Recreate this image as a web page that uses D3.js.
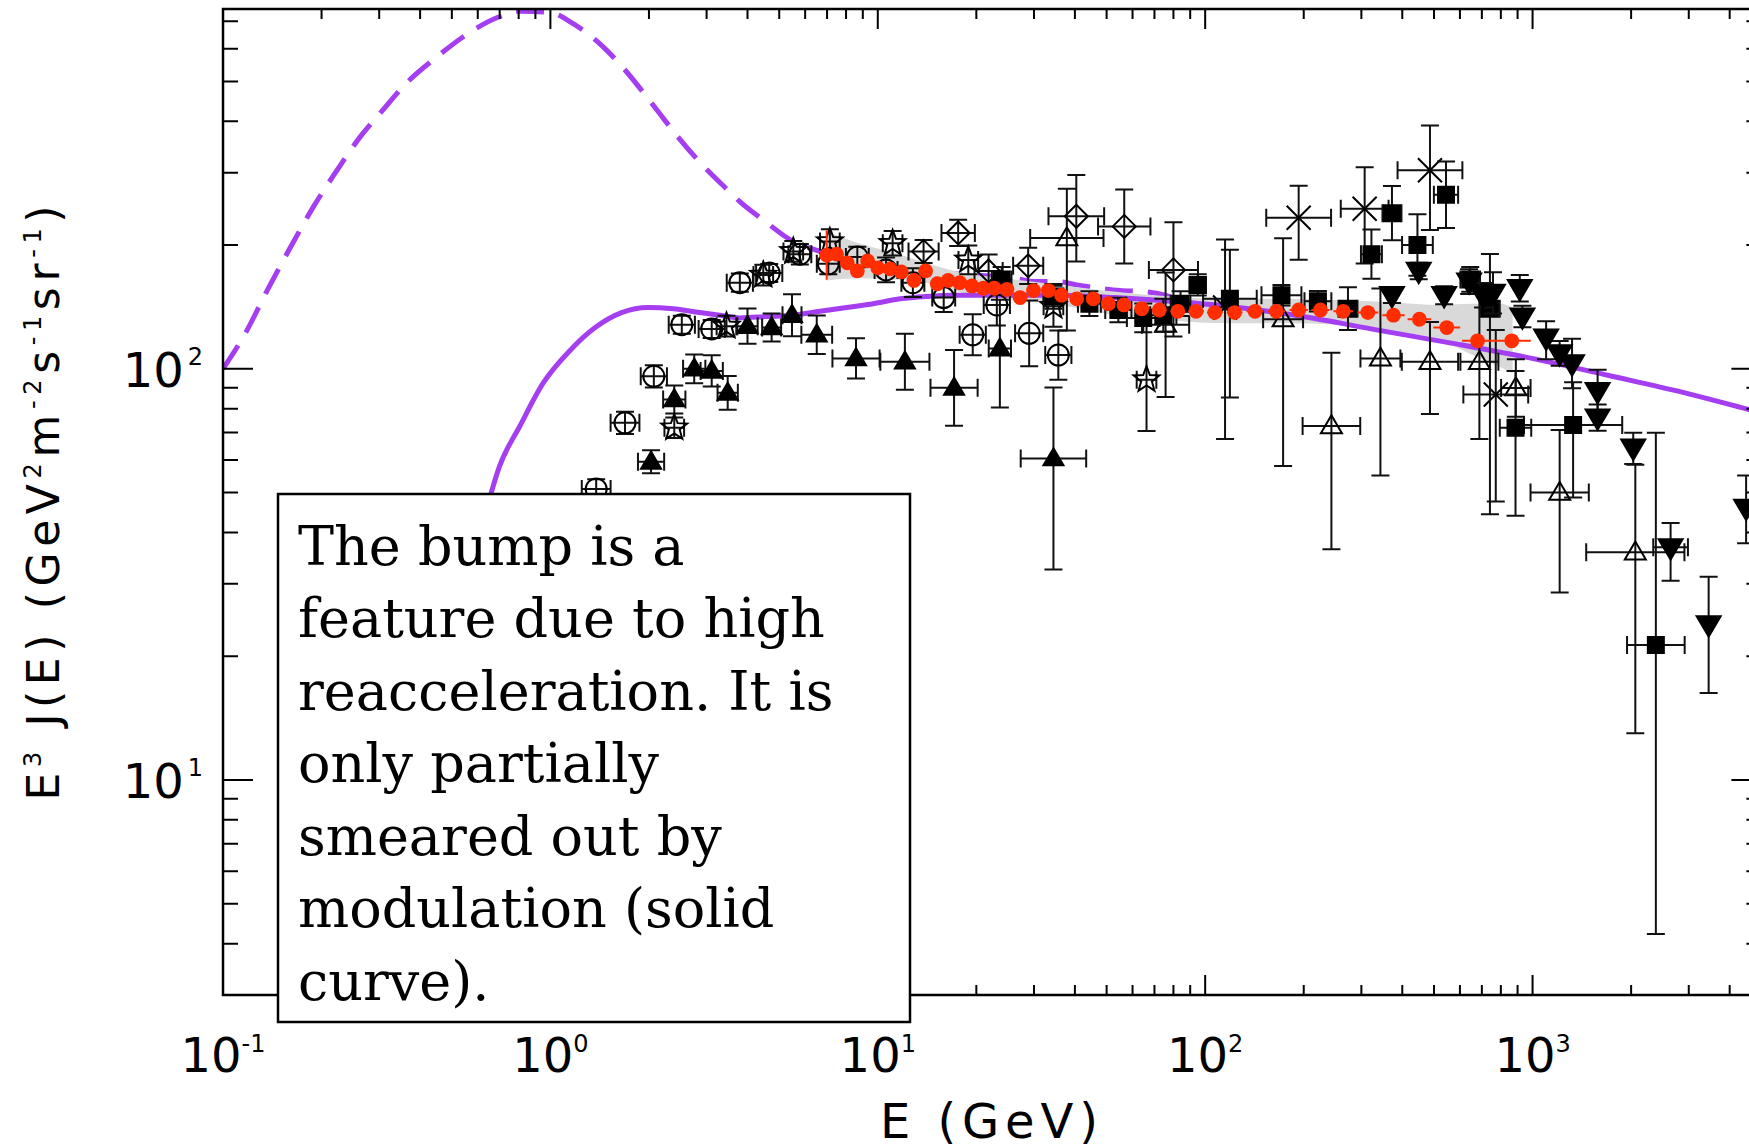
<!DOCTYPE html>
<html>
<head>
<meta charset="utf-8">
<script src="https://cdn.jsdelivr.net/npm/d3@7/dist/d3.min.js"></script>
<style>
  body { margin: 0; background: #fff; }
  text { font-family: "DejaVu Sans", sans-serif; fill: #000; }
</style>
</head>
<body>
<svg id="chart" width="1749" height="1148"></svg>
<script>
// each point: [E (GeV), E^3 J(E), dE half width (dex), dF low (dex), dF high (dex)]
var openCircles = [
  [1.38, 51.0, .044, .024, .024], [1.69, 73.9, .044, .027, .027], [2.07, 95.9, .04, .027, .027],
  [2.52, 128, .04, .022, .022], [3.11, 125, .04, .022, .022], [3.79, 162, .04, .022, .022],
  [4.66, 171, .04, .022, .022], [5.78, 190, .035, .025, .025], [7.06, 180, .035, .025, .025],
  [8.66, 187, .035, .025, .025], [10.6, 174, .035, .03, .03], [12.8, 162, .035, .035, .035],
  [15.9, 149, .035, .035, .035], [19.5, 121, .04, .05, .05], [23.1, 143, .04, .05, .05],
  [29.0, 122, .043, .08, .08], [35.6, 108, .04, .06, .06]
];
var filledUpTri = [
  [2.03, 59.4, .04, .028, .028], [2.39, 84.2, .034, .034, .034], [2.75, 100, .034, .035, .035],
  [3.11, 98.8, .034, .038, .038], [3.48, 87.4, .031, .041, .041], [4.00, 127, .031, .043, .043],
  [4.74, 126, .029, .034, .034], [5.47, 135, .029, .051, .051], [6.51, 121, .047, .047, .047],
  [8.58, 106, .072, .049, .049], [12.1, 104, .075, .068, .068], [17.1, 89.9, .072, .092, .092],
  [23.6, 112, .034, .143, .119], [34.4, 60.5, .1, .27, .173]
];
var openStars = [
  [2.39, 71.9, .03, .025, .025], [3.45, 127, .03, .025, .025], [4.47, 169, .03, .025, .025],
  [5.52, 193, .03, .025, .025], [7.14, 204, .03, .03, .03], [11.1, 202, .03, .03, .03],
  [18.9, 184, .03, .035, .035], [34.4, 142, .03, .05, .05], [66.2, 94.1, .03, .125, .17]
];
var openDiamonds = [
  [13.8, 193, .046, .028, .028], [17.6, 214, .051, .032, .032], [21.8, 173, .043, .04, .04],
  [28.8, 178, .046, .044, .044], [40.4, 235, .085, .11, .1], [56.6, 222, .08, .09, .09],
  [80.0, 174, .075, .162, .116]
];
var filledSquares = [
  [23.9, 165, .03, .03, .03], [34.4, 150, .03, .03, .03], [44.3, 144, .035, .03, .03],
  [54.3, 139, .04, .03, .03], [64.7, 133, .05, .035, .035], [74.5, 135, .04, .04, .04],
  [84.1, 144, .03, .03, .03], [94.9, 160, .025, .026, .026], [119, 148, .082, .24, .119],
  [171, 151, .061, .025, .025], [221, 146, .041, .025, .025], [273, 140, .029, .052, .052],
  [322, 190, .032, .06, .06], [372, 239, .029, .066, .066], [445, 200, .047, .075, .075],
  [544, 265, .037, .081, .081], [645, 165, .03, .03, .03], [741, 140, .03, .5, .133],
  [887, 71.9, .048, .214, .138], [1330, 73.0, .15, .176, .104], [2380, 21.3, .088, .703, .516]
];
var openUpTri = [
  [37.8, 208, .112, .225, .12], [75.7, 128, .072, .176, .127], [173, 132, .061, .357, .197],
  [243, 72.6, .088, .3, .178], [343, 106, .061, .285, .17], [486, 104, .086, .127, .097],
  [688, 104, .058, .188, .18], [889, 89.8, .045, .07, .07], [1210, 50.0, .089, .243, .152],
  [2060, 35.8, .15, .44, .213]
];
var crosses = [
  [115, 141, .03, .32, .165], [193, 233, .099, .102, .078], [307, 245, .073, .133, .101],
  [486, 304, .099, .145, .109], [772, 86.6, .099, .26, .157]
];
var filledDownTri = [
  [372, 151, 0, .019, .019], [449, 173, 0, .02, .02], [537, 151, 0, .022, .022],
  [640, 163, 0, .03, .03], [706, 151, 0, .03, .03], [757, 153, 0, .05, .05],
  [914, 157, 0, .032, .032], [931, 134, 0, .026, .026], [1100, 119, 0, .052, .04],
  [1210, 109, 0, .03, .03], [1320, 103, 0, .06, .06], [1580, 88.2, 0, .052, .052],
  [1580, 76.1, 0, .032, .032], [2030, 64.3, 0, .04, .036], [2640, 36.8, .053, .081, .059],
  [3450, 23.9, 0, .167, .116], [4490, 45.9, 0, .086, .079]
];

// red points and their uncertainty band
var redE = [6.98, 7.48, 8.07, 8.66, 9.31, 10.0, 10.9, 11.8, 12.9, 14.0, 15.2, 16.4, 17.8, 19.4, 21.0,
  22.7, 24.8, 27.2, 29.9, 33.2, 36.4, 40.5, 45.5, 50.6, 56.5, 64.0, 72.4, 82.5, 93.8, 107, 123, 142,
  165, 193, 225, 264, 314, 376, 451, 547, 679, 864];
var redF = [189, 190, 181, 173, 183, 176, 175, 172, 164, 173, 161, 164, 162, 159, 157, 157, 156, 149,
  155, 155, 151, 148, 148, 144, 143, 140, 139, 138, 138, 137, 137, 138, 138, 139, 139, 138, 137, 135,
  132, 126, 117, 117];
var redDE = [.015, .015, .015, .015, .015, .015, .015, .015, .015, .015, .015, .015, .015, .015, .015,
  .015, .015, .015, .015, .015, .018, .018, .018, .02, .02, .022, .022, .022, .024, .024, .024, .026,
  .026, .028, .028, .03, .032, .034, .036, .041, .047, .058];
var redDF = [.06, .01, .01, .01, .01, .01, .01, .01, .01, .01, .01, .01, .01, .01, .01, .01, .01, .01,
  .01, .01, .01, .01, .01, .01, .01, .01, .01, .01, .01, .01, .01, .01, .01, .01, .01, .01, .01, .01,
  .01, .01, .01, .01];
var bandE = [6.97, 8.75, 11.1, 14.0, 17.7, 24.3, 35.9, 53.2, 78.7, 117, 173, 255, 378, 517, 655, 796, 869];
var bandLo = [164, 166, 165, 162, 154, 148, 143, 135, 131, 129, 129, 128, 123, 118, 108, 101, 97.5];
var bandHi = [216, 202, 192, 181, 172, 166, 160, 154, 150, 148, 148, 147, 145, 143, 144, 144, 141];

// model curves: unmodulated (dashed) and modulated (solid)
var lisE = [0.1, 0.117, 0.137, 0.161, 0.189, 0.223, 0.262, 0.307, 0.361, 0.448, 0.556, 0.689, 0.81,
  1.0, 1.18, 1.42, 1.69, 2.05, 2.49, 3.03, 3.45, 3.79, 4.47, 5.52, 6.28, 9.47, 14.4, 15.9, 27.2, 29.9,
  35.2, 40.5, 47.7, 54.9, 65.5, 75.4, 79.8, 140];
var lisF = [100, 122, 156, 198, 248, 304, 366, 425, 493, 572, 651, 715, 741, 735, 689, 616, 533, 440,
  361, 303, 274, 255, 230, 204, 196, 181, 172, 171, 165, 163, 163, 160, 157, 155, 154, 151, 149, 140];
var solidE = [0.55, 0.62, 0.70, 0.807, 0.951, 1.15, 1.37, 1.65, 1.99, 2.37, 2.86, 3.30, 3.79, 4.58,
  5.52, 6.66, 8.04, 9.69, 11.7, 14.1, 17.0, 23.6, 35.9, 53.2, 78.7, 117, 199, 340, 582, 996, 1710,
  2920, 4580, 5000];
var solidF = [30, 42, 58.1, 72.6, 92.4, 111, 126, 137, 141, 140, 137, 135, 133, 134, 135, 138, 141,
  144, 148, 150, 151, 151, 151, 149, 146, 142, 134, 124, 115, 106, 96.3, 87.4, 79.6, 78.2];

var xMajor = [0.1, 1, 10, 100, 1000];
var xExp = ["-1", "0", "1", "2", "3"];
var yMajor = [10, 100];
var yExp = ["1", "2"];
var boxLines = ["The bump is a", "feature due to high", "reacceleration. It is", "only partially",
  "smeared out by", "modulation (solid", "curve)."];

var purple = "#a53ef0";
var red = "#ff2d00";

var svg = d3.select("#chart");
svg.append("rect").attr("width", 1749).attr("height", 1148).attr("fill", "#fff");

var x = d3.scaleLog().domain([0.1, 5000]).range([223, 1761.4]);
var y = d3.scaleLog().domain([3, 750]).range([995, 9]);
var x0 = x.range()[0], x1 = x.range()[1], yB = y.range()[0], yT = y.range()[1];

svg.append("defs").append("clipPath").attr("id", "plot-clip").append("rect")
    .attr("x", x0).attr("y", yT).attr("width", x1 - x0).attr("height", yB - yT);

var plot = svg.append("g").attr("clip-path", "url(#plot-clip)");

var line = d3.line()
    .x(function(d) { return x(d[0]); })
    .y(function(d) { return y(d[1]); })
    .curve(d3.curveMonotoneX);

plot.append("path")
    .datum(d3.zip(lisE, lisF))
    .attr("d", line)
    .attr("fill", "none")
    .attr("stroke", purple)
    .attr("stroke-width", 5)
    .attr("stroke-dasharray", "28,15");

var band = d3.area()
    .x(function(d) { return x(d[0]); })
    .y0(function(d) { return y(d[1]); })
    .y1(function(d) { return y(d[2]); })
    .curve(d3.curveMonotoneX);

plot.append("path")
    .datum(d3.zip(bandE, bandLo, bandHi))
    .attr("d", band)
    .attr("fill", "#d9d9d9");

plot.append("path")
    .datum(d3.zip(solidE, solidF))
    .attr("d", line)
    .attr("fill", "none")
    .attr("stroke", purple)
    .attr("stroke-width", 5);

// marker shapes, size = full width in px
var symCircle = { draw: function(c, s) { c.moveTo(s / 2, 0); c.arc(0, 0, s / 2, 0, 2 * Math.PI); } };
var symSquare = { draw: function(c, s) { c.rect(-s / 2, -s / 2, s, s); } };
var symDiamond = { draw: function(c, s) {
  var r = s / 2; c.moveTo(0, -r); c.lineTo(r, 0); c.lineTo(0, r); c.lineTo(-r, 0); c.closePath();
} };
var symTriUp = { draw: function(c, s) {
  var h = s * 0.85; c.moveTo(0, -h * 0.6); c.lineTo(s / 2, h * 0.4); c.lineTo(-s / 2, h * 0.4); c.closePath();
} };
var symTriDown = { draw: function(c, s) {
  var h = s * 0.85; c.moveTo(0, h * 0.6); c.lineTo(s / 2, -h * 0.4); c.lineTo(-s / 2, -h * 0.4); c.closePath();
} };
var symX = { draw: function(c, s) {
  var r = s / 2; c.moveTo(-r, -r); c.lineTo(r, r); c.moveTo(r, -r); c.lineTo(-r, r);
} };
var symStar = { draw: function(c, s) {
  var ro = s / 2, ri = ro * 0.42;
  for (var i = 0; i < 10; i++) {
    var r = i % 2 ? ri : ro, a = -Math.PI / 2 + i * Math.PI / 5;
    if (i === 0) c.moveTo(r * Math.cos(a), r * Math.sin(a));
    else c.lineTo(r * Math.cos(a), r * Math.sin(a));
  }
  c.closePath();
} };

function errorPath(d, cap) {
  var xx = x(d[0]), yy = y(d[1]), p = "";
  if (d[2] > 0) {
    var xa = x(d[0] / Math.pow(10, d[2])), xb = x(d[0] * Math.pow(10, d[2]));
    p += "M" + xa + "," + yy + "H" + xb;
    if (cap) p += "M" + xa + "," + (yy - cap) + "V" + (yy + cap) + "M" + xb + "," + (yy - cap) + "V" + (yy + cap);
  }
  if (d[3] > 0 || d[4] > 0) {
    var ya = y(d[1] / Math.pow(10, d[3])), yb = y(d[1] * Math.pow(10, d[4]));
    p += "M" + xx + "," + ya + "V" + yb;
    if (cap) p += "M" + (xx - cap) + "," + ya + "H" + (xx + cap) + "M" + (xx - cap) + "," + yb + "H" + (xx + cap);
  }
  return p;
}

function drawSeries(data, type, size, filled) {
  var g = plot.append("g");
  g.selectAll("path.err")
      .data(data)
      .enter().append("path")
      .attr("class", "err")
      .attr("d", function(d) { return errorPath(d, 9); })
      .attr("fill", "none")
      .attr("stroke", "#111")
      .attr("stroke-width", 2);
  g.selectAll("path.mark")
      .data(data)
      .enter().append("path")
      .attr("class", "mark")
      .attr("transform", function(d) { return "translate(" + x(d[0]) + "," + y(d[1]) + ")"; })
      .attr("d", d3.symbol().type(type).size(size))
      .attr("fill", filled ? "#000" : "none")
      .attr("stroke", "#000")
      .attr("stroke-width", 2);
}

drawSeries(openCircles, symCircle, 21, false);
drawSeries(filledUpTri, symTriUp, 20, true);
drawSeries(openStars, symStar, 27, false);
drawSeries(openDiamonds, symDiamond, 23, false);
drawSeries(openUpTri, symTriUp, 21, false);
drawSeries(crosses, symX, 24, false);
drawSeries(filledSquares, symSquare, 16, true);
drawSeries(filledDownTri, symTriDown, 24, true);

// red points
var redPts = d3.zip(redE, redF, redDE, redDF, redDF);
plot.append("g").selectAll("path")
    .data(redPts)
    .enter().append("path")
    .attr("d", function(d) { return errorPath(d, 0); })
    .attr("stroke", red)
    .attr("stroke-width", 2)
    .attr("fill", "none");
plot.append("g").selectAll("circle")
    .data(redPts)
    .enter().append("circle")
    .attr("cx", function(d) { return x(d[0]); })
    .attr("cy", function(d) { return y(d[1]); })
    .attr("r", 7.4)
    .attr("fill", red);

// frame and ticks
var axes = svg.append("g").attr("stroke", "#000").attr("fill", "none");
axes.append("rect")
    .attr("x", x0).attr("y", yT).attr("width", x1 - x0).attr("height", yB - yT)
    .attr("stroke-width", 2.5);

function isMajor(t) { return Math.abs(Math.log10(t) - Math.round(Math.log10(t))) < 1e-6; }

var xt = x.ticks().filter(function(t) { return t >= 0.1 && t <= 5000; });
axes.selectAll("path.xt")
    .data(xt)
    .enter().append("path")
    .attr("class", "xt")
    .attr("stroke-width", 2)
    .attr("d", function(t) {
      var L = isMajor(t) ? 20 : 10, px = x(t);
      return "M" + px + "," + yB + "V" + (yB - L) + "M" + px + "," + yT + "V" + (yT + L);
    });

var yt = y.ticks().filter(function(t) { return t >= 3 && t <= 750; });
axes.selectAll("path.yt")
    .data(yt)
    .enter().append("path")
    .attr("class", "yt")
    .attr("stroke-width", 2)
    .attr("d", function(t) {
      var L = isMajor(t) ? 30 : 15, py = y(t);
      return "M" + x0 + "," + py + "H" + (x0 + L) + "M" + x1 + "," + py + "H" + (x1 - L);
    });

// text box
svg.append("rect")
    .attr("x", 278).attr("y", 494).attr("width", 632).attr("height", 528)
    .attr("fill", "#fff").attr("stroke", "#000").attr("stroke-width", 2.5);
svg.append("g").selectAll("text")
    .data(boxLines)
    .enter().append("text")
    .attr("x", 298)
    .attr("y", function(d, i) { return 564.5 + i * 72.5; })
    .style("font-family", "'DejaVu Serif', serif")
    .style("font-size", "54px")
    .text(function(d) { return d; });

// tick labels
var xl = svg.append("g").selectAll("text")
    .data(xMajor)
    .enter().append("text")
    .attr("x", function(d) { return x(d); })
    .attr("y", 1072)
    .attr("text-anchor", "middle")
    .style("font-size", "48px");
xl.append("tspan").text("10");
xl.append("tspan").attr("dy", -20).style("font-size", "24px").text(function(d, i) { return xExp[i]; });

var yl = svg.append("g").selectAll("text")
    .data(yMajor)
    .enter().append("text")
    .attr("x", 203)
    .attr("y", function(d) { return y(d) + 18; })
    .attr("text-anchor", "end")
    .style("font-size", "48px");
yl.append("tspan").text("10");
yl.append("tspan").attr("dx", 4).attr("dy", -22).style("font-size", "24px").text(function(d, i) { return yExp[i]; });

// axis titles
svg.append("text")
    .attr("x", 989).attr("y", 1138)
    .attr("text-anchor", "middle")
    .attr("textLength", 218).attr("lengthAdjust", "spacing")
    .style("font-size", "48px")
    .text("E (GeV)");

var yTitle = svg.append("text")
    .attr("transform", "translate(59,503) rotate(-90)")
    .attr("text-anchor", "middle")
    .attr("textLength", 595).attr("lengthAdjust", "spacing")
    .style("font-size", "44px");
var parts = [["E", 0], ["3", 1], [" J(E)  (GeV", 0], ["2", 1], ["m", 0], ["-2", 1], ["s", 0],
  ["-1", 1], ["sr", 0], ["-1", 1], [")", 0]];
var prevSup = false;
parts.forEach(function(p) {
  var sup = p[1] === 1;
  var dy = sup && !prevSup ? -18 : (!sup && prevSup ? 18 : 0);
  yTitle.append("tspan")
      .attr("dy", dy)
      .style("font-size", sup ? "24px" : "44px")
      .text(p[0]);
  prevSup = sup;
});
</script>
</body>
</html>
